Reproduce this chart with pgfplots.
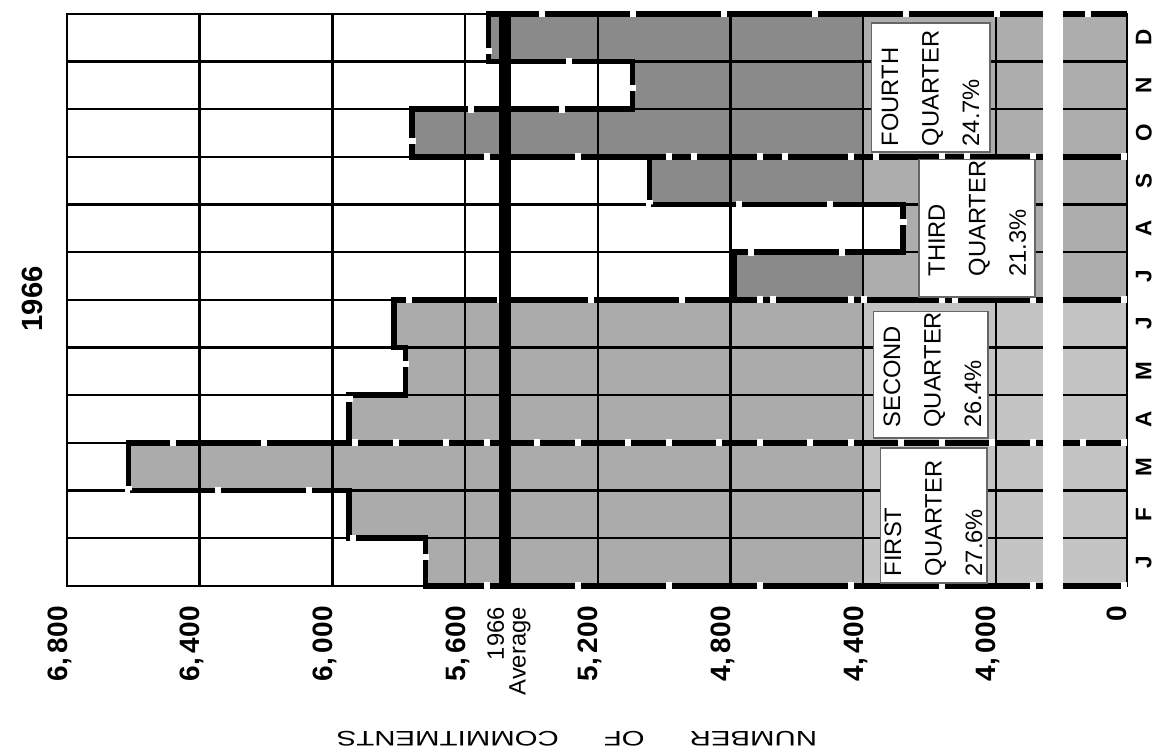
\documentclass[border=0pt]{standalone}
\usepackage{pgfplots}
\pgfplotsset{compat=1.18}
\usepackage{pgfplotstable}
\usepackage{fontspec}
\setmainfont{Liberation Sans}
\newfontfamily\widefont[FakeStretch=1.4]{Liberation Sans}

% monthly commitments, 1966
\pgfplotstableread{
m v
1 5720
2 5950
3 6615
4 5950
5 5780
6 5815
}\firsthalf
\pgfplotstableread{
m v
7 4790
8 4280
9 5045
10 5760
11 5095
12 5530
}\secondhalf

% the scale is broken: its 0 sits where 3605 would be
\def\zero{3605}

\pgfplotsset{
  qline/.style={black, line width=2.2pt, on layer=axis foreground},
  qgap/.style={white, line width=2.9pt, dash pattern=on 2.4pt off 34pt, on layer=axis foreground},
}
\tikzset{qtext/.style={rotate=90, anchor=north west, align=left, inner sep=0pt,
  font=\fontsize{9.5}{16.2}\selectfont}}

\begin{document}
\begin{tikzpicture}
\begin{axis}[
    set layers, axis on top,
    scale only axis, width=424pt, height=228.8pt,
    x dir=reverse,
    xmin=0, xmax=3195, ymin=0.5, ymax=12.5,
    clip=false,
    axis line style={black, line width=0.9pt},
    xtick={0,395,795,1195,1595,1995,2395,2795,3195},
    xticklabels={0,{4,\,000},{4,\,400},{4,\,800},{5,\,200},{5,\,600},{6,\,000},{6,\,400},{6,\,800}},
    xticklabel style={yshift=-8pt, rotate=90, anchor=base east, inner sep=0pt,
      font=\fontsize{11.2}{13}\selectfont\bfseries},
    ytick={1,...,12},
    yticklabels={J,F,M,A,M,J,J,A,S,O,N,D},
    yticklabel pos=right,
    yticklabel style={xshift=3.4pt, rotate=90, anchor=north, inner sep=0pt,
      font=\fontsize{9}{11}\selectfont\bfseries},
    minor ytick={1.5,2.5,...,11.5},
    major tick length=0pt, minor tick length=0pt,
    xmajorgrids, yminorgrids,
    major grid style={black, line width=1pt},
    minor grid style={black, line width=0.9pt},
]

% bars
\addplot[xbar, bar width=1, bar shift=0pt, fill=black!33, draw=none]
  table[x expr=\thisrow{v}-\zero, y=m] {\firsthalf};
\addplot[xbar, bar width=1, bar shift=0pt, fill=black!46, draw=none]
  table[x expr=\thisrow{v}-\zero, y=m] {\secondhalf};
\fill[white, opacity=0.3] (axis cs:0,0.5) rectangle (axis cs:795,12.5);

% quarter outlines
\addplot[qline] table[x expr=\thisrow{v}-\zero, y=y, row sep=\\]
  {v y\\ 3605 0.5\\ 5720 0.5\\ 5720 1.5\\ 5950 1.5\\ 5950 2.5\\ 6615 2.5\\ 6615 3.5\\ 3605 3.5\\};
\addplot[qline] table[x expr=\thisrow{v}-\zero, y=y, row sep=\\]
  {v y\\ 3605 3.5\\ 5950 3.5\\ 5950 4.5\\ 5780 4.5\\ 5780 5.5\\ 5815 5.5\\ 5815 6.5\\ 3605 6.5\\};
\addplot[qline] table[x expr=\thisrow{v}-\zero, y=y, row sep=\\]
  {v y\\ 3605 6.5\\ 4790 6.5\\ 4790 7.5\\ 4280 7.5\\ 4280 8.5\\ 5045 8.5\\ 5045 9.5\\ 3605 9.5\\};
\addplot[qline] table[x expr=\thisrow{v}-\zero, y=y, row sep=\\]
  {v y\\ 3605 9.5\\ 5760 9.5\\ 5760 10.5\\ 5095 10.5\\ 5095 11.5\\ 5530 11.5\\ 5530 12.5\\ 3605 12.5\\};
\addplot[qgap] table[x expr=\thisrow{v}-\zero, y=y, row sep=\\]
  {v y\\ 3605 0.5\\ 5720 0.5\\ 5720 1.5\\ 5950 1.5\\ 5950 2.5\\ 6615 2.5\\ 6615 3.5\\ 3605 3.5\\};
\addplot[qgap] table[x expr=\thisrow{v}-\zero, y=y, row sep=\\]
  {v y\\ 3605 3.5\\ 5950 3.5\\ 5950 4.5\\ 5780 4.5\\ 5780 5.5\\ 5815 5.5\\ 5815 6.5\\ 3605 6.5\\};
\addplot[qgap] table[x expr=\thisrow{v}-\zero, y=y, row sep=\\]
  {v y\\ 3605 6.5\\ 4790 6.5\\ 4790 7.5\\ 4280 7.5\\ 4280 8.5\\ 5045 8.5\\ 5045 9.5\\ 3605 9.5\\};
\addplot[qgap] table[x expr=\thisrow{v}-\zero, y=y, row sep=\\]
  {v y\\ 3605 9.5\\ 5760 9.5\\ 5760 10.5\\ 5095 10.5\\ 5095 11.5\\ 5530 11.5\\ 5530 12.5\\ 3605 12.5\\};

% 1966 average
\addplot[on layer=axis foreground, black, line width=4.8pt]
  table[x expr=\thisrow{v}-\zero, y=y, row sep=\\] {v y\\ 5480 0.5\\ 5480 12.5\\};

\begin{pgfonlayer}{axis foreground}
% scale break
\fill[white] (axis cs:193,0.3) rectangle (axis cs:253,12.7);

% quarter labels
\draw[black!60, line width=0.5pt, fill=white] (axis cs:744,0.56) rectangle (axis cs:422,3.39);
\draw[black!60, line width=0.5pt, fill=white] (axis cs:765,3.60) rectangle (axis cs:419,6.25);
\draw[black!60, line width=0.5pt, fill=white] (axis cs:627,6.56) rectangle (axis cs:277,9.44);
\draw[black!60, line width=0.5pt, fill=white] (axis cs:771,9.60) rectangle (axis cs:413,12.31);
\node[qtext] at (axis cs:732,0.69) {FIRST\\QUARTER\\27.6\%};
\node[qtext] at (axis cs:735,3.81) {SECOND\\QUARTER\\26.4\%};
\node[qtext] at (axis cs:600,6.98) {THIRD\\QUARTER\\21.3\%};
\node[qtext] at (axis cs:741,9.71) {FOURTH\\QUARTER\\24.7\%};

\node[yshift=-8.4pt, rotate=90, anchor=east, align=right, inner sep=0pt,
  font=\fontsize{9.5}{8.8}\selectfont] at (axis cs:1863,0.5) {1966\\Average};
\end{pgfonlayer}

\node[rotate=90, font=\fontsize{11.7}{14}\selectfont\bfseries] at (axis cs:3300,6.52) {1966};
\node[rotate=180, font=\widefont\fontsize{8.4}{10}\selectfont]
  at (axis cs:1658,-2.70) {NUMBER\hspace{18pt}OF\hspace{18pt}COMMITMENTS};

\coordinate (bbsw) at (axis cs:3397,-2.98);
\coordinate (bbne) at (axis cs:-78.4,12.79);
\end{axis}
\pgfresetboundingbox
\useasboundingbox (bbsw) rectangle (bbne);
\end{tikzpicture}
\end{document}
